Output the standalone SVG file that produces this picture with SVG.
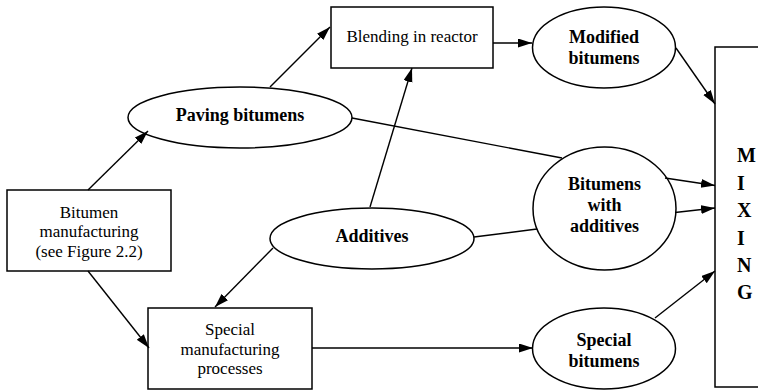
<svg xmlns="http://www.w3.org/2000/svg" width="758" height="390" viewBox="0 0 758 390">
<style>
.s{fill:#fff;stroke:#000;stroke-width:1.5}
.c line{stroke:#000;stroke-width:1.4}
.a{marker-end:url(#ah)}
text{font-family:'Liberation Serif','DejaVu Serif',serif;fill:#000}
.r{font-size:17px;text-anchor:middle}
.b{font-size:18px;font-weight:bold;text-anchor:middle}
.m{font-size:20px;font-weight:bold}
</style>
<defs>
<marker id="ah" markerUnits="userSpaceOnUse" markerWidth="15" markerHeight="10" refX="14" refY="4.5" orient="auto">
<path d="M0,0 L14,4.5 L0,9 z" fill="#000"/>
</marker>
</defs>
<rect width="758" height="390" fill="#fff"/>
<g id="mixing"><rect class="s" x="715" y="47" width="60" height="340"/>
<text class="m" font-family="Liberation Serif, serif"><tspan x="737" y="162">M</tspan><tspan x="737" y="189.5">I</tspan><tspan x="737" y="217">X</tspan><tspan x="737" y="244.5">I</tspan><tspan x="737" y="272">N</tspan><tspan x="737" y="299">G</tspan></text></g>
<g id="blending"><rect class="s" x="331" y="7" width="162" height="61"/><text class="r" font-family="Liberation Serif, serif" x="412" y="42">Blending in reactor</text></g>
<g id="bitumen-manufacturing"><rect class="s" x="7" y="190" width="164" height="81"/>
<text class="r" font-family="Liberation Serif, serif"><tspan x="89" y="218">Bitumen</tspan><tspan x="89" y="237">manufacturing</tspan><tspan x="89" y="257">(see Figure 2.2)</tspan></text></g>
<g id="special-manufacturing"><rect class="s" x="148" y="308" width="164" height="81"/>
<text class="r" font-family="Liberation Serif, serif"><tspan x="230" y="335">Special</tspan><tspan x="230" y="355">manufacturing</tspan><tspan x="230" y="374">processes</tspan></text></g>
<g id="paving"><ellipse class="s" cx="240" cy="117.5" rx="112" ry="30.5"/><text class="b" font-family="Liberation Serif, serif" x="240" y="121">Paving bitumens</text></g>
<g id="modified"><ellipse class="s" cx="604" cy="47.5" rx="71.5" ry="40.5"/>
<text class="b" font-family="Liberation Serif, serif"><tspan x="604" y="43">Modified</tspan><tspan x="604" y="64">bitumens</tspan></text></g>
<g id="with-additives"><ellipse class="s" cx="604.5" cy="208.5" rx="71.5" ry="61.5"/>
<text class="b" font-family="Liberation Serif, serif"><tspan x="604.5" y="190">Bitumens</tspan><tspan x="604.5" y="211">with</tspan><tspan x="604.5" y="232">additives</tspan></text></g>
<g id="additives"><ellipse class="s" cx="372" cy="238.5" rx="102" ry="30.5"/><text class="b" font-family="Liberation Serif, serif" x="372" y="242">Additives</text></g>
<g id="special-bitumens"><ellipse class="s" cx="604" cy="348.5" rx="71.5" ry="40.5"/>
<text class="b" font-family="Liberation Serif, serif"><tspan x="604" y="346">Special</tspan><tspan x="604" y="367">bitumens</tspan></text></g>
<g id="connectors" class="c">
<line class="a" x1="88" y1="190" x2="148" y2="131"/>
<line class="a" x1="270" y1="87" x2="330" y2="27"/>
<line class="a" x1="493" y1="43" x2="532" y2="43"/>
<line class="a" x1="676" y1="48" x2="715" y2="104"/>
<line x1="352" y1="118" x2="562" y2="158"/>
<line class="a" x1="370" y1="207" x2="412" y2="68"/>
<line x1="474" y1="237" x2="537" y2="229"/>
<line class="a" x1="665" y1="178" x2="715" y2="185.5"/>
<line class="a" x1="675" y1="212.5" x2="715" y2="208"/>
<line class="a" x1="655" y1="318" x2="715" y2="271"/>
<line class="a" x1="312" y1="348" x2="533" y2="348"/>
<line class="a" x1="273" y1="248" x2="215" y2="307"/>
<line class="a" x1="88" y1="271" x2="149" y2="348"/>
</g>
</svg>
